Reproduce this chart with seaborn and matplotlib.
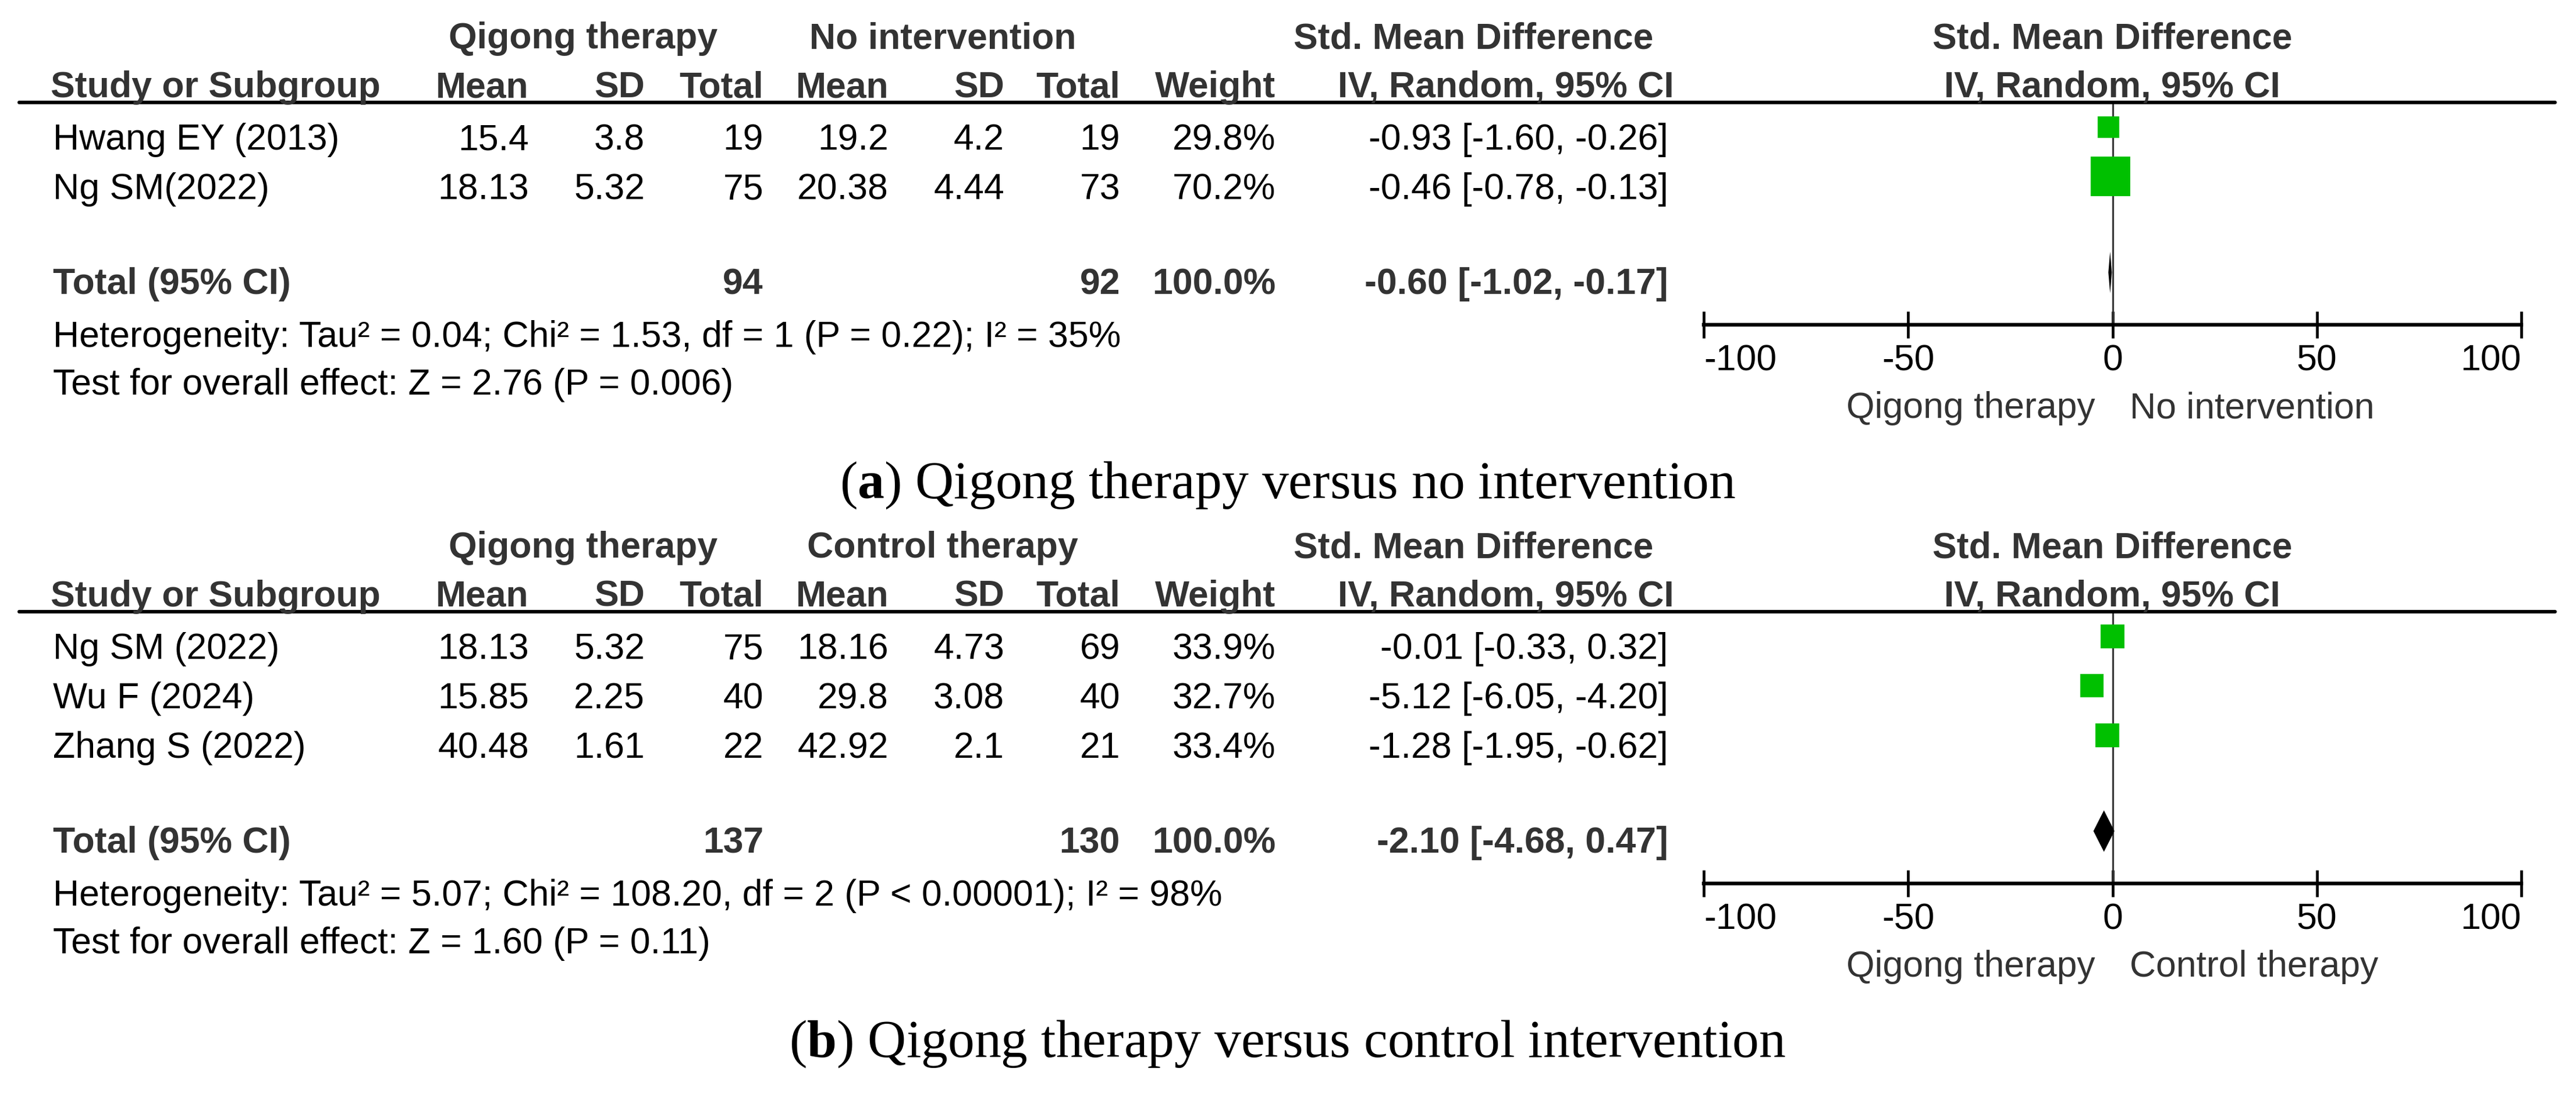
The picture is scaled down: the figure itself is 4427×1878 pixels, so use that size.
import numpy as np
import pandas as pd
import seaborn as sns
import matplotlib.pyplot as plt
from matplotlib.lines import Line2D

# ---- data: (a) Qigong therapy vs no intervention ----
studies_a = ["Hwang EY (2013)", "Ng SM(2022)"]
mean_q_a = [15.4, 18.13]
sd_q_a = [3.8, 5.32]
n_q_a = [19, 75]
mean_c_a = [19.2, 20.38]
sd_c_a = [4.2, 4.44]
n_c_a = [19, 73]
weight_a = [29.8, 70.2]
smd_a = [-0.93, -0.46]
lo_a = [-1.60, -0.78]
hi_a = [-0.26, -0.13]
total_a = [94, 92]
pooled_a = [-0.60, -1.02, -0.17]
het_a = "Heterogeneity: Tau² = 0.04; Chi² = 1.53, df = 1 (P = 0.22); I² = 35%"
test_a = "Test for overall effect: Z = 2.76 (P = 0.006)"

# ---- data: (b) Qigong therapy vs control therapy ----
studies_b = ["Ng SM (2022)", "Wu F (2024)", "Zhang S (2022)"]
mean_q_b = [18.13, 15.85, 40.48]
sd_q_b = [5.32, 2.25, 1.61]
n_q_b = [75, 40, 22]
mean_c_b = [18.16, 29.8, 42.92]
sd_c_b = [4.73, 3.08, 2.1]
n_c_b = [69, 40, 21]
weight_b = [33.9, 32.7, 33.4]
smd_b = [-0.01, -5.12, -1.28]
lo_b = [-0.33, -6.05, -1.95]
hi_b = [0.32, -4.20, -0.62]
total_b = [137, 130]
pooled_b = [-2.10, -4.68, 0.47]
het_b = "Heterogeneity: Tau² = 5.07; Chi² = 108.20, df = 2 (P < 0.00001); I² = 98%"
test_b = "Test for overall effect: Z = 1.60 (P = 0.11)"

ticks = [-100, -50, 0, 50, 100]

sns.set_theme(style="white")
plt.rcParams["font.family"] = ["Liberation Sans", "DejaVu Sans"]
plt.rcParams["axes.unicode_minus"] = False
plt.rcParams["mathtext.fontset"] = "custom"
plt.rcParams["mathtext.rm"] = "Liberation Serif"
plt.rcParams["mathtext.bf"] = "Liberation Serif:bold"

W, H = 4427, 1878
FS = 45
HDR = "#333333"
fig = plt.figure(figsize=(W / 100, H / 100), dpi=100)
fig.patch.set_facecolor("white")

# column right edges (pixels)
cols = [909, 1108, 1312, 1527, 1726, 1925, 2192]
X_CI = 2867
X0, X1 = 2928, 4333  # forest axis -100 .. 100
PITCH = 84.9


def put(x, y, s, ha="right", bold=False, color="black", size=FS, family=None):
    kw = {}
    if family:
        kw["family"] = family
    fig.text(x / W, 1 - y / H, s, ha=ha, va="baseline", fontsize=size,
             fontweight="bold" if bold else "normal", color=color, **kw)


def fmt_ci(e, l, h):
    return f"{e:.2f} [{l:.2f}, {h:.2f}]"


def draw_panel(L, studies, mq, sq, nq, mc, sc, nc, w, smd, lo, hi, tot, pooled,
               het, test, ctrl, caption):
    n = len(studies)
    axis_y = L + PITCH * (n + 2.5)

    # header
    put(1002, L - 93, "Qigong therapy", ha="center", bold=True, color=HDR)
    put(1620, L - 93, ctrl, ha="center", bold=True, color=HDR)
    put(2532, L - 93, "Std. Mean Difference", ha="center", bold=True, color=HDR)
    put(3630, L - 93, "Std. Mean Difference", ha="center", bold=True, color=HDR)
    put(87, L - 9, "Study or Subgroup", ha="left", bold=True, color=HDR)
    for lab, x in zip(["Mean", "SD", "Total", "Mean", "SD", "Total", "Weight"], cols):
        put(x, L - 9, lab, bold=True, color=HDR)
    put(2588, L - 9, "IV, Random, 95% CI", ha="center", bold=True, color=HDR)
    put(3630, L - 9, "IV, Random, 95% CI", ha="center", bold=True, color=HDR)
    fig.add_artist(Line2D([33 / W, 4391 / W], [1 - L / H] * 2, lw=4.4, color="black"))

    # study rows
    for i in range(n):
        y = L + PITCH * (i + 0.5) + 39
        put(91, y, studies[i], ha="left")
        vals = [mq[i], sq[i], nq[i], mc[i], sc[i], nc[i], f"{w[i]:.1f}%"]
        for v, x in zip(vals, cols):
            put(x, y, str(v))
        put(X_CI, y, fmt_ci(smd[i], lo[i], hi[i]))

    # total row
    yt = L + PITCH * (n + 1.5) + 32
    put(91, yt, "Total (95% CI)", ha="left", bold=True, color=HDR)
    put(cols[2], yt, str(tot[0]), bold=True, color=HDR)
    put(cols[5], yt, str(tot[1]), bold=True, color=HDR)
    put(cols[6], yt, "100.0%", bold=True, color=HDR)
    put(X_CI, yt, fmt_ci(*pooled), bold=True, color=HDR)
    put(91, yt + 91, het, ha="left")
    put(91, yt + 173, test, ha="left")

    # forest plot
    ax = fig.add_axes([X0 / W, 1 - axis_y / H, (X1 - X0) / W, (axis_y - L) / H])
    ax.set_facecolor("none")
    df = pd.DataFrame({"smd": smd, "row": np.arange(n), "weight": w})
    ax.hlines(df["row"], lo, hi, color="black", lw=1.5, zorder=2)
    sns.scatterplot(data=df, x="smd", y="row", size="weight", sizes=(710, 2400),
                    size_norm=(29.8, 70.2), marker="s", color="#00c000",
                    linewidth=0, legend=False, ax=ax, zorder=3)
    est, plo, phi = pooled
    yd = n + 0.94
    ax.fill([plo, est, phi, est], [yd, yd - 0.42, yd, yd + 0.42], color="black", lw=0, zorder=4)
    ax.axvline(0, color="#333333", lw=2.2, zorder=1)
    ax.set_xlim(-100, 100)
    ax.set_ylim(n + 2, -0.5)
    ax.set_xticks(ticks)
    ax.set_xticklabels([str(t) for t in ticks])
    labels = ax.get_xticklabels()
    labels[0].set_ha("left")
    labels[-1].set_ha("right")
    ax.set_yticks([])
    ax.set_xlabel("")
    ax.set_ylabel("")
    for s in ["top", "left", "right"]:
        ax.spines[s].set_visible(False)
    ax.spines["bottom"].set_linewidth(4.6)
    ax.spines["bottom"].set_color("black")
    ax.tick_params(axis="x", direction="inout", length=33, width=3.4, pad=7,
                   labelsize=FS, colors="black", bottom=True)

    put(3601, axis_y + 160, "Qigong therapy", ha="right", color=HDR)
    put(3660, axis_y + 160, ctrl, ha="left", color=HDR)

    put(2213, axis_y + 298, caption, ha="center", size=66, family="Liberation Serif")


draw_panel(176, studies_a, mean_q_a, sd_q_a, n_q_a, mean_c_a, sd_c_a, n_c_a, weight_a,
           smd_a, lo_a, hi_a, total_a, pooled_a, het_a, test_a, "No intervention",
           r"($\mathbf{a}$) Qigong therapy versus no intervention")
draw_panel(1051, studies_b, mean_q_b, sd_q_b, n_q_b, mean_c_b, sd_c_b, n_c_b, weight_b,
           smd_b, lo_b, hi_b, total_b, pooled_b, het_b, test_b, "Control therapy",
           r"($\mathbf{b}$) Qigong therapy versus control intervention")

fig.savefig("out.png", dpi=100, facecolor="white")
